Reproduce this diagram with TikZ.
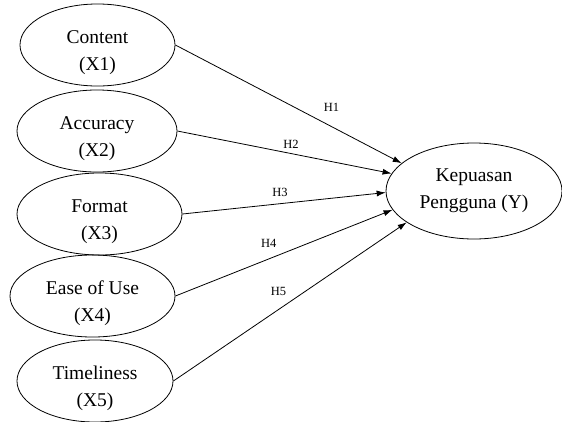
\documentclass[tikz,border=0pt]{standalone}
\usepackage{fontspec}
\setmainfont{Liberation Serif}
\usetikzlibrary{shapes.geometric,arrows.meta}

\begin{document}
\begin{tikzpicture}[x=1pt,y=-1pt,
var/.style={ellipse,draw,line width=0.8pt,
minimum width=160pt,minimum height=77pt,inner sep=0pt,
align=center,font=\fontsize{19.5}{27}\selectfont},
xvar/.style={var,text height=54pt,text depth=4pt},
hyp/.style={-{Latex[length=9pt,width=6pt]},line width=0.8pt},
hlabel/.style={font=\fontsize{12.5}{14}\selectfont,inner sep=2pt}]
\useasboundingbox (0,0) rectangle (562,421);
% independent variables
\node[xvar,minimum width=155pt,minimum height=80pt]
(x1) at (97.5,45) {Content\\(X1)};
\node[xvar] (x2) at (97,131) {Accuracy\\(X2)};
\node[xvar,minimum width=165pt,minimum height=78pt]
(x3) at (99.5,214) {Format\\(X3)};
\node[xvar,minimum width=165pt,minimum height=75pt]
(x4) at (92.5,296) {Ease of Use\\(X4)};
\node[xvar,minimum width=156pt] (x5) at (95,381) {Timeliness\\(X5)};
% dependent variable
\node[var,minimum width=176pt,minimum height=96pt]
(y) at (474,191) {Kepuasan\\Pengguna (Y)};
% hypotheses
\draw[hyp] (x1.east) -- node[hlabel,pos=0.69,above=13pt] {H1} (y.159);
\draw[hyp] (x2.east) -- node[hlabel,pos=0.53,above=3pt] {H2} (y.168);
\draw[hyp] (x3.east) -- node[hlabel,pos=0.48,above=5pt] {H3} (y.181);
\draw[hyp] (x4.east) -- node[hlabel,pos=0.43,above=9pt] {H4} (y.193);
\draw[hyp] (x5.east) -- node[hlabel,pos=0.45,above=12pt] {H5} (y.205);
\end{tikzpicture}
\end{document}
